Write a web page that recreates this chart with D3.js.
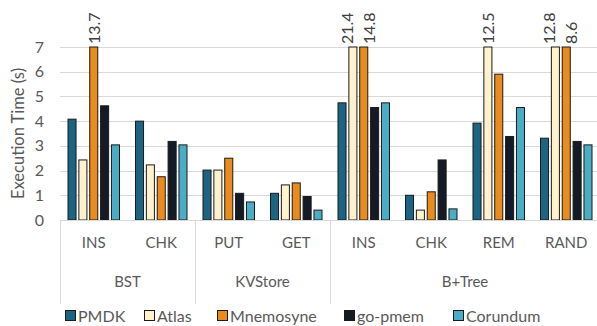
<!DOCTYPE html>
<html lang="en">
<head>
  <meta charset="utf-8">
  <title>Execution time</title>
  <script src="https://d3js.org/d3.v7.min.js"></script>
  <style>
    body { margin: 0; background: #fff; }
    text { font-family: Lato, "Open Sans", sans-serif; }
  </style>
</head>
<body>
<script>
// data
var groups = ["BST", "KVStore", "B+Tree"];
var groupSizes = [2, 2, 4];
var categories = ["INS", "CHK", "PUT", "GET", "INS", "CHK", "REM", "RAND"];
var series = ["PMDK", "Atlas", "Mnemosyne", "go-pmem", "Corundum"];
var colors = ["#1c6582", "#fff2cc", "#ea8b1d", "#141a26", "#4bacc6"];
var pmdk      = [4.08, 4.0, 2.02, 1.08, 4.74, 1.0, 3.92, 3.31];
var atlas     = [2.43, 2.23, 2.02, 1.42, 21.4, 0.4, 12.5, 12.8];
var mnemosyne = [13.7, 1.75, 2.5, 1.5, 14.8, 1.14, 5.9, 8.6];
var gopmem    = [4.62, 3.18, 1.08, 0.95, 4.55, 2.43, 3.38, 3.18];
var corundum  = [3.04, 3.04, 0.73, 0.4, 4.74, 0.45, 4.55, 3.04];
var values = [pmdk, atlas, mnemosyne, gopmem, corundum];
var yTicks = [0, 1, 2, 3, 4, 5, 6, 7];
var yMax = 7;

var width = 597, height = 326;
var margin = {top: 47, right: -3, bottom: 106, left: 60};
var plotW = width - margin.left - margin.right;
var plotH = height - margin.top - margin.bottom;

var svg = d3.select("body").append("svg")
    .attr("width", width)
    .attr("height", height);

var g = svg.append("g")
    .attr("transform", "translate(" + margin.left + "," + margin.top + ")");

var idx = d3.range(categories.length);

var x0 = d3.scaleBand()
    .domain(idx)
    .range([0, plotW])
    .paddingInner(0)
    .paddingOuter(0);

var x1 = d3.scaleBand()
    .domain(series)
    .range([8, x0.bandwidth() - 8])
    .paddingInner(0.26);

var y = d3.scaleLinear()
    .domain([0, yMax])
    .range([plotH, 0]);

// gridlines
g.selectAll(".grid")
  .data(yTicks.slice(1))
  .enter().append("line")
    .attr("x1", 0)
    .attr("x2", plotW)
    .attr("y1", function(d) { return Math.round(y(d)) + 0.5; })
    .attr("y2", function(d) { return Math.round(y(d)) + 0.5; })
    .attr("stroke", "#d9d9d9")
    .attr("stroke-width", 1);

// y axis labels
var yAxis = d3.axisLeft(y).tickValues(yTicks).tickSize(0).tickPadding(16)
    .tickFormat(d3.format("d"));
var ya = g.append("g").call(yAxis);
ya.select(".domain").remove();
ya.selectAll("text")
    .attr("font-size", "16px")
    .attr("fill", "#595959")
    .style("font-family", "Lato, sans-serif");

svg.append("text")
    .attr("transform", "translate(24," + (margin.top + plotH / 2) + ") rotate(-90)")
    .attr("text-anchor", "middle")
    .attr("font-size", "16.5px")
    .attr("fill", "#595959")
    .text("Execution Time (s)");

// bars
var cats = g.selectAll(".cat")
  .data(idx)
  .enter().append("g")
    .attr("transform", function(i) { return "translate(" + x0(i) + ",0)"; });

cats.selectAll("rect")
  .data(function(i) {
    return series.map(function(s, k) { return {s: s, k: k, v: values[k][i]}; });
  })
  .enter().append("rect")
    .attr("x", function(d) { return x1(d.s); })
    .attr("width", x1.bandwidth())
    .attr("y", function(d) { return y(Math.min(d.v, yMax)); })
    .attr("height", function(d) { return plotH - y(Math.min(d.v, yMax)); })
    .attr("fill", function(d) { return colors[d.k]; })
    .attr("stroke", "#1a1a1a")
    .attr("stroke-width", 1);

// labels for bars that run off the top; neighbours get pushed apart
cats.selectAll(".over")
  .data(function(i) {
    var over = series.map(function(s, k) { return {s: s, k: k, v: values[k][i]}; })
      .filter(function(d) { return d.v > yMax; });
    over.forEach(function(d, j) {
      d.nudge = over.length > 1 ? (j === 0 ? -6 : 5) : 0;
    });
    return over;
  })
  .enter().append("text")
    .attr("transform", function(d) {
      return "translate(" + (x1(d.s) + x1.bandwidth() / 2 + d.nudge) + "," + (y(yMax) - 3) + ") rotate(-90)";
    })
    .attr("dy", "0.36em")
    .attr("font-size", "16px")
    .attr("fill", "#404040")
    .text(function(d) { return d.v.toFixed(1); });

// x axis line
g.append("line")
    .attr("x1", 0).attr("x2", plotW)
    .attr("y1", plotH + 0.5).attr("y2", plotH + 0.5)
    .attr("stroke", "#d9d9d9");

// category labels
var xAxis = d3.axisBottom(x0).tickSize(0).tickPadding(17)
    .tickFormat(function(i) { return categories[i]; });
var xa = g.append("g").attr("transform", "translate(0," + plotH + ")").call(xAxis);
xa.select(".domain").remove();
xa.selectAll("text")
    .attr("font-size", "15px")
    .attr("fill", "#595959")
    .style("font-family", "Lato, sans-serif");

// group labels and separators
var starts = [0];
groupSizes.forEach(function(n, i) { starts.push(starts[i] + n); });

g.selectAll(".sep")
  .data(starts)
  .enter().append("line")
    .attr("x1", function(i) { return Math.round(i < categories.length ? x0(i) : plotW) + 0.5; })
    .attr("x2", function(i) { return Math.round(i < categories.length ? x0(i) : plotW) + 0.5; })
    .attr("y1", plotH)
    .attr("y2", plotH + 84)
    .attr("stroke", "#d9d9d9");

g.selectAll(".grp")
  .data(groups)
  .enter().append("text")
    .attr("x", function(d, i) {
      var a = x0(starts[i]);
      var b = starts[i + 1] < categories.length ? x0(starts[i + 1]) : plotW;
      return (a + b) / 2;
    })
    .attr("y", plotH + 67)
    .attr("text-anchor", "middle")
    .attr("font-size", "15px")
    .attr("fill", "#595959")
    .text(function(d) { return d; });

// legend
var legendX = [65, 144, 217, 344, 453];
var leg = svg.selectAll(".leg")
  .data(series)
  .enter().append("g")
    .attr("transform", function(d, i) { return "translate(" + legendX[i] + ",310)"; });

leg.append("rect")
    .attr("width", 10).attr("height", 10)
    .attr("y", 0.5).attr("x", 0.5)
    .attr("fill", function(d, i) { return colors[i]; })
    .attr("stroke", "#1a1a1a");

leg.append("text")
    .attr("x", 13)
    .attr("y", 6)
    .attr("dy", "0.36em")
    .attr("font-size", "16px")
    .attr("fill", "#595959")
    .text(function(d) { return d; });
</script>
</body>
</html>
